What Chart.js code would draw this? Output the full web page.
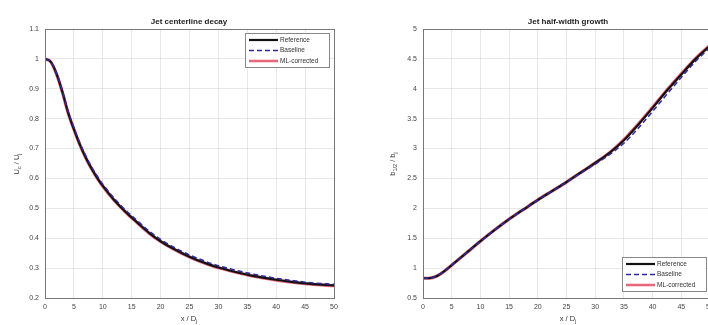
<!DOCTYPE html>
<html>
<head>
<meta charset="utf-8">
<script src="https://cdn.jsdelivr.net/npm/chart.js@4.4.1/dist/chart.umd.min.js"></script>
<style>
html, body { margin: 0; padding: 0; background: #fff; overflow: hidden; width: 708px; height: 325px; }
#left { position: absolute; left: 0; top: 0; }
#right { position: absolute; left: 354px; top: 0; }
</style>
</head>
<body>
<canvas id="left" width="354" height="325"></canvas>
<canvas id="right" width="380" height="325"></canvas>
<script>
// centerline decay, Uc/Uj vs x/Dj
const xDecay = [0, 1, 2, 3, 4, 5, 6, 7, 8, 9, 10, 12, 14, 16, 18, 20, 22, 25, 28, 30, 33, 36, 40, 43, 46, 50];
const decayRef = [1.0, 0.99, 0.95, 0.89, 0.82, 0.765, 0.715, 0.672, 0.635, 0.603, 0.575, 0.527, 0.487, 0.452, 0.418, 0.39, 0.367, 0.338, 0.315, 0.302, 0.287, 0.274, 0.261, 0.253, 0.247, 0.242];
const decayBase = [1.0, 0.99, 0.952, 0.893, 0.824, 0.77, 0.72, 0.678, 0.641, 0.609, 0.581, 0.533, 0.493, 0.458, 0.424, 0.396, 0.373, 0.344, 0.321, 0.308, 0.293, 0.28, 0.266, 0.258, 0.251, 0.246];
const decayML = [1.0, 0.99, 0.949, 0.889, 0.819, 0.764, 0.714, 0.671, 0.634, 0.602, 0.574, 0.526, 0.486, 0.451, 0.417, 0.389, 0.366, 0.337, 0.314, 0.301, 0.286, 0.273, 0.26, 0.252, 0.246, 0.241];

// half-width growth, b1/2 / bj vs x/Dj
const xWidth = [0, 1, 2, 3, 4, 5, 7.5, 10, 12.5, 15, 17.5, 20, 22.5, 25, 27.5, 30, 32.5, 35, 37.5, 40, 42.5, 45, 47.5, 50];
const widthRef = [0.83, 0.83, 0.85, 0.9, 0.97, 1.05, 1.25, 1.45, 1.64, 1.82, 1.98, 2.14, 2.29, 2.44, 2.6, 2.76, 2.93, 3.14, 3.4, 3.68, 3.97, 4.24, 4.5, 4.72];
const widthBase = [0.83, 0.83, 0.85, 0.9, 0.97, 1.05, 1.25, 1.45, 1.64, 1.82, 1.98, 2.14, 2.29, 2.44, 2.59, 2.74, 2.9, 3.09, 3.34, 3.62, 3.91, 4.19, 4.46, 4.69];
const widthML = [0.83, 0.83, 0.85, 0.9, 0.97, 1.05, 1.25, 1.45, 1.64, 1.82, 1.98, 2.14, 2.29, 2.44, 2.6, 2.76, 2.93, 3.15, 3.41, 3.69, 3.98, 4.25, 4.51, 4.73];

const xTicks = [0, 5, 10, 15, 20, 25, 30, 35, 40, 45, 50];
const decayTicks = [0.2, 0.3, 0.4, 0.5, 0.6, 0.7, 0.8, 0.9, 1, 1.1];
const widthTicks = [0.5, 1, 1.5, 2, 2.5, 3, 3.5, 4, 4.5, 5];

const seriesNames = ['Reference', 'Baseline', 'ML-corrected'];

const FONT = '"Liberation Sans", Arial, sans-serif';

function pts(xs, ys) {
	return xs.map((x, i) => ({ x: x, y: ys[i] }));
}

function makeSets(xs, ref, base, ml) {
	return [
		{ label: seriesNames[0], data: pts(xs, ref), borderColor: '#111', borderWidth: 2.2, order: 2 },
		{ label: seriesNames[1], data: pts(xs, base), borderColor: '#2b2b9a', borderWidth: 1.5, borderDash: [5, 3], order: 1 },
		{ label: seriesNames[2], data: pts(xs, ml), borderColor: 'rgba(225,50,75,0.75)', borderWidth: 3.2, order: 3 }
	];
}

// rich text with subscripts: parts = [[text, isSub], ...]
function drawRich(ctx, parts, cx, cy, rotate) {
	const big = '7.5px ' + FONT, small = '5.5px ' + FONT;
	let w = 0;
	parts.forEach(p => { ctx.font = p[1] ? small : big; w += ctx.measureText(p[0]).width; });
	ctx.save();
	ctx.translate(cx, cy);
	if (rotate) ctx.rotate(-Math.PI / 2);
	ctx.fillStyle = '#333';
	ctx.textBaseline = 'middle';
	ctx.textAlign = 'left';
	let x = -w / 2;
	parts.forEach(p => {
		ctx.font = p[1] ? small : big;
		ctx.fillText(p[0], x, p[1] ? 2.5 : 0);
		x += ctx.measureText(p[0]).width;
	});
	ctx.restore();
}

const deco = {
	id: 'deco',
	afterDraw(chart, args, opts) {
		const ctx = chart.ctx, a = chart.chartArea;
		// box
		ctx.save();
		ctx.strokeStyle = '#777';
		ctx.lineWidth = 1;
		ctx.strokeRect(Math.round(a.left) + 0.5, Math.round(a.top) + 0.5, Math.round(a.right - a.left), Math.round(a.bottom - a.top));
		// title
		ctx.fillStyle = '#222';
		ctx.font = 'bold 8px ' + FONT;
		ctx.textAlign = 'center';
		ctx.textBaseline = 'middle';
		ctx.fillText(opts.title, opts.titleX, 22);
		ctx.restore();
		drawRich(ctx, opts.xTitle, opts.titleX, 319, false);
		drawRich(ctx, opts.yTitle, opts.yTitleX, 164, true);
		// legend
		const L = opts.legend;
		ctx.save();
		ctx.fillStyle = '#fff';
		ctx.fillRect(L.x, L.y, L.w, L.h);
		ctx.strokeStyle = '#888';
		ctx.lineWidth = 1;
		ctx.strokeRect(L.x + 0.5, L.y + 0.5, L.w, L.h);
		ctx.font = '6.5px ' + FONT;
		ctx.textBaseline = 'middle';
		ctx.textAlign = 'left';
		chart.data.datasets.forEach((ds, i) => {
			const y = L.y + 7 + i * 10.5;
			ctx.beginPath();
			ctx.strokeStyle = ds.borderColor;
			ctx.lineWidth = Math.min(ds.borderWidth, 2.5);
			ctx.setLineDash(ds.borderDash || []);
			ctx.moveTo(L.x + 4, y);
			ctx.lineTo(L.x + 33, y);
			ctx.stroke();
			ctx.setLineDash([]);
			ctx.fillStyle = '#333';
			ctx.fillText(ds.label, L.x + 35, y);
		});
		ctx.restore();
	}
};

function makeChart(id, sets, yTicks, yAxisWidth, padRight, deco) {
	return new Chart(document.getElementById(id), {
		type: 'line',
		data: { datasets: sets },
		options: {
			responsive: false,
			animation: false,
			layout: { padding: { left: 0, top: 29, right: padRight, bottom: 0 } },
			elements: { point: { radius: 0 }, line: { cubicInterpolationMode: 'monotone' } },
			plugins: { legend: { display: false }, tooltip: { enabled: false }, deco: deco },
			scales: {
				x: {
					type: 'linear',
					min: xTicks[0],
					max: xTicks[xTicks.length - 1],
					afterBuildTicks: s => { s.ticks = xTicks.map(v => ({ value: v })); },
					afterFit: s => { s.height = 27; },
					grid: { color: 'rgba(0,0,0,0.09)', drawTicks: false },
					border: { display: false },
					ticks: { padding: 5, color: '#444', font: { size: 7, family: FONT }, maxRotation: 0, autoSkip: false }
				},
				y: {
					min: yTicks[0],
					max: yTicks[yTicks.length - 1],
					afterBuildTicks: s => { s.ticks = yTicks.map(v => ({ value: v })); },
					afterFit: s => { s.width = yAxisWidth; },
					grid: { color: 'rgba(0,0,0,0.09)', drawTicks: false },
					border: { display: false },
					ticks: { padding: 6, color: '#444', font: { size: 7, family: FONT }, autoSkip: false,
						callback: v => String(parseFloat(v.toFixed(2))) }
				}
			}
		},
		plugins: [deco_plugin]
	});
}
const deco_plugin = deco;

makeChart('left', makeSets(xDecay, decayRef, decayBase, decayML), decayTicks, 45, 20, {
	title: 'Jet centerline decay',
	titleX: 189,
	xTitle: [['x / D', 0], ['j', 1]],
	yTitle: [['U', 0], ['c', 1], [' / U', 0], ['j', 1]],
	yTitleX: 17,
	legend: { x: 245, y: 33, w: 84, h: 34 }
});

makeChart('right', makeSets(xWidth, widthRef, widthBase, widthML), widthTicks, 69, 24, {
	title: 'Jet half-width growth',
	titleX: 568 - 354,
	xTitle: [['x / D', 0], ['j', 1]],
	yTitle: [['b', 0], ['1/2', 1], [' / b', 0], ['j', 1]],
	yTitleX: 393 - 354,
	legend: { x: 622 - 354, y: 257, w: 84, h: 34 }
});
</script>
</body>
</html>
